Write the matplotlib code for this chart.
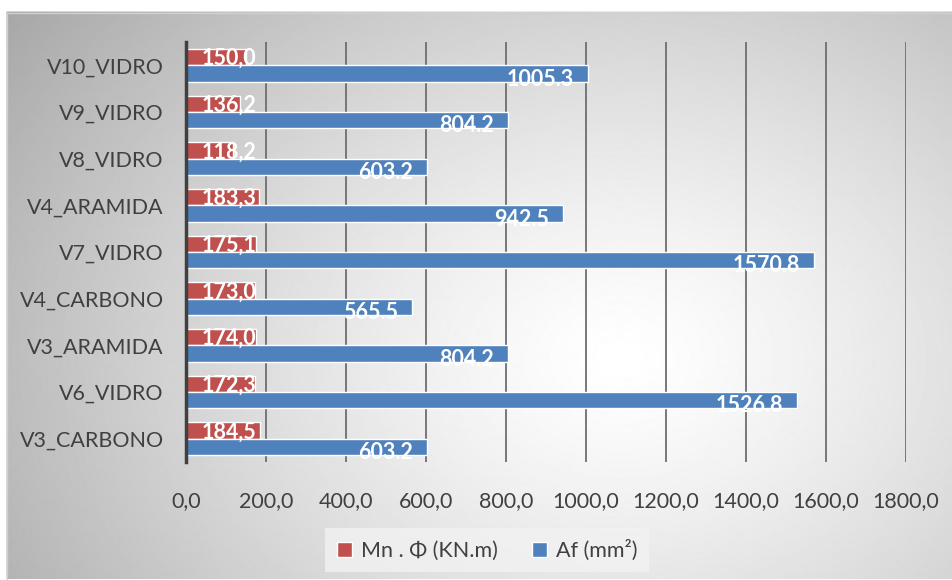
import numpy as np
import matplotlib.pyplot as plt
from matplotlib.patches import Patch

plt.rcParams['font.family'] = ['Lato', 'DejaVu Sans']

categories = ['V3_CARBONO', 'V6_VIDRO', 'V3_ARAMIDA', 'V4_CARBONO', 'V7_VIDRO',
              'V4_ARAMIDA', 'V8_VIDRO', 'V9_VIDRO', 'V10_VIDRO']
mn_phi = [184.5, 172.3, 174.0, 173.0, 175.1, 183.3, 118.2, 136.2, 150.0]
af = [603.2, 1526.8, 804.2, 565.5, 1570.8, 942.5, 603.2, 804.2, 1005.3]
xticks = np.arange(0, 1801, 200)

RED = '#C0504D'
BLUE = '#4F81BD'
TXT = '#404040'

W, H = 952, 580
fig = plt.figure(figsize=(W / 100, H / 100), dpi=100)

# radial gradient background of the chart area
bg = fig.add_axes([0, 0, 1, 1], zorder=-10)
yy, xx = np.mgrid[0:H, 0:W]
d = np.sqrt(((xx - 620) / 700.0) ** 2 + ((yy - 360) / 540.0) ** 2)
v = 1.0 - 0.31 * np.clip(d, 0, 1.2) ** 1.3
v[:13, :] = 1.0
v[:, :7] = 1.0
bg.imshow(v, cmap='gray', vmin=0, vmax=1, aspect='auto', interpolation='bilinear')
bg.plot([7, W], [13, 13], color='#d0d0d0', lw=1)
bg.plot([7, 7], [13, H], color='#d0d0d0', lw=1)
bg.set_xlim(0, W)
bg.set_ylim(H, 0)
bg.axis('off')

ax = fig.add_axes([186 / W, 1 - 462 / H, 720 / W, 420 / H])
ax.patch.set_alpha(0)

y = np.arange(len(categories))
h = 0.35
ax.barh(y + h / 2, mn_phi, height=h, color=RED, edgecolor='white', linewidth=1, zorder=3)
ax.barh(y - h / 2, af, height=h, color=BLUE, edgecolor='white', linewidth=1, zorder=3)

for yi, val in zip(y, mn_phi):
    ax.annotate(f'{val:.1f}'.replace('.', ','), (0, yi + h / 2), xytext=(11, -1),
                textcoords='offset points', ha='left', va='center',
                color='white', fontsize=15.5, fontweight='bold', zorder=4)
for yi, val in zip(y, af):
    ax.annotate(f'{val:.1f}', (val, yi - h / 2), xytext=(-10, -4),
                textcoords='offset points', ha='right', va='center',
                color='white', fontsize=15.5, fontweight='bold', zorder=4)

ax.set_xlim(0, 1800)
ax.set_ylim(-0.5, len(categories) - 0.5)
ax.set_xticks(xticks)
ax.set_xticklabels([f'{t},0' for t in xticks])
ax.set_yticks(y)
ax.set_yticklabels(categories)
ax.tick_params(axis='both', length=0, labelsize=15.5, colors=TXT)
ax.tick_params(axis='x', pad=21)
ax.tick_params(axis='y', pad=16)
ax.grid(axis='x', color='#6e6e6e', linewidth=1.3, zorder=1)
for s in ['top', 'right', 'bottom']:
    ax.spines[s].set_visible(False)
ax.spines['left'].set_color('#404040')
ax.spines['left'].set_linewidth(2.5)
ax.spines['left'].set_zorder(5)

handles = [Patch(facecolor=RED, edgecolor='white'), Patch(facecolor=BLUE, edgecolor='white')]
leg = fig.legend(handles, ['Mn . Φ (KN.m)', 'Af (mm²)'], loc='center',
                 bbox_to_anchor=(487 / W, 1 - 550 / H), ncol=2, frameon=True,
                 fontsize=15.5, handlelength=0.7, handleheight=0.7, handletextpad=0.4,
                 columnspacing=1.6, borderpad=0.55, fancybox=False)
leg.get_frame().set_facecolor('#f2f2f2')
leg.get_frame().set_edgecolor('none')
for t in leg.get_texts():
    t.set_color(TXT)

fig.savefig('out.png', dpi=100)
